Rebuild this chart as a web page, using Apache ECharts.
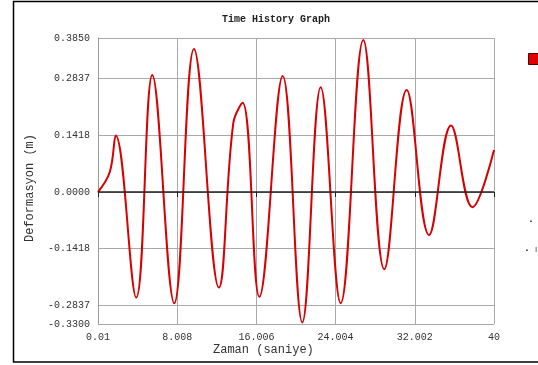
<!DOCTYPE html>
<html>
<head>
<meta charset="utf-8">
<script src="https://cdn.jsdelivr.net/npm/echarts@6.0.0/dist/echarts.min.js"></script>
<style>
  html, body { margin: 0; padding: 0; background: #fff; }
  #chart { width: 538px; height: 365px; }
</style>
</head>
<body>
<div id="chart"></div>
<script>
// time history (s) and deformation (m): peaks, troughs and a few bends
const zaman = [0.01, 1.2, 1.8, 3.87, 5.49, 7.71, 9.7, 12.22, 13.67, 14.62, 16.3, 18.66,
    20.64, 22.5, 24.52, 26.8, 28.92, 31.18, 33.44, 35.66, 37.82, 40];
const deformasyon = [0, 0.05, 0.141, -0.264, 0.2925, -0.278, 0.3575, -0.239, 0.172, 0.223, -0.262, 0.29,
    -0.326, 0.262, -0.278, 0.38, -0.193, 0.255, -0.1075, 0.166, -0.038, 0.105];
const xTicks = [0.01, 8.008, 16.006, 24.004, 32.002, 40];
const yTicks = [-0.33, -0.2837, -0.1418, 0, 0.1418, 0.2837, 0.385];

const chart = echarts.init(document.getElementById('chart'));
const mono = 'Liberation Mono';

chart.setOption({
    backgroundColor: '#fff',
    animation: false,
    title: {
        text: 'Time History Graph',
        left: 271, top: 9, textAlign: 'center',
        textStyle: { fontFamily: mono, fontSize: 10, fontWeight: 'bold', color: '#222' }
    },
    legend: {
        left: 523, top: 48,
        itemWidth: 14, itemHeight: 11,
        icon: 'rect',
        textStyle: { fontSize: 10, color: '#333' },
        data: [{ name: 'Deformasyon', itemStyle: { color: '#e00000', borderColor: '#500', borderWidth: 1 } }]
    },
    grid: { left: 98, right: 44, top: 38, bottom: 41 },
    xAxis: {
        type: 'value',
        min: 0.01, max: 40,
        axisLine: { lineStyle: { color: '#999' } },
        axisTick: { show: true, customValues: xTicks, length: 5, inside: false, lineStyle: { color: '#222' } },
        axisLabel: {
            customValues: xTicks, margin: 8,
            fontFamily: mono, fontSize: 10, color: '#333',
            formatter: v => v === 0.01 ? '0.01' : (v === 40 ? '40' : v.toFixed(3))
        },
        splitLine: { show: true, lineStyle: { color: '#aaa' } }
    },
    yAxis: {
        type: 'value',
        min: -0.33, max: 0.385,
        axisLine: { show: true, lineStyle: { color: '#999' } },
        axisTick: { show: false, customValues: yTicks },
        axisLabel: {
            customValues: yTicks, margin: 8,
            fontFamily: mono, fontSize: 10, color: '#333',
            formatter: v => v.toFixed(4)
        },
        splitLine: { show: true, lineStyle: { color: '#aaa' } }
    },
    series: [{
        name: 'Deformasyon',
        type: 'line',
        data: zaman.map((t, i) => [t, deformasyon[i]]),
        smooth: 0.4,
        showSymbol: false,
        lineStyle: { color: '#d80000', width: 2 },
        itemStyle: { color: '#e00000' },
        markLine: {
            silent: true, symbol: 'none', label: { show: false },
            lineStyle: { color: '#222', type: 'solid', width: 1.5 },
            data: [{ yAxis: 0 }]
        },
        z: 3
    }],
    graphic: [
        {
            type: 'rect', silent: true,
            shape: { x: 13.5, y: 1.5, width: 600, height: 360.5 },
            style: { fill: 'none', stroke: '#000', lineWidth: 1.5 }
        },
        {
            type: 'text', left: 213, top: 344,
            style: { text: 'Zaman (saniye)', font: '12px "Liberation Mono"', fill: '#333' }
        },
        {
            type: 'text', x: 24, y: 242, rotation: Math.PI / 2,
            style: { text: 'Deformasyon (m)', font: '12px "Liberation Mono"', fill: '#333' }
        },
        { type: 'text', left: 529, top: 219, style: { text: '▲', font: '4px sans-serif', fill: '#444' } },
        { type: 'text', left: 525, top: 248, style: { text: '▲', font: '4px sans-serif', fill: '#444' } },
        { type: 'text', left: 535, top: 246, style: { text: 'I', font: '8px sans-serif', fill: '#444' } }
    ]
});
</script>
</body>
</html>
